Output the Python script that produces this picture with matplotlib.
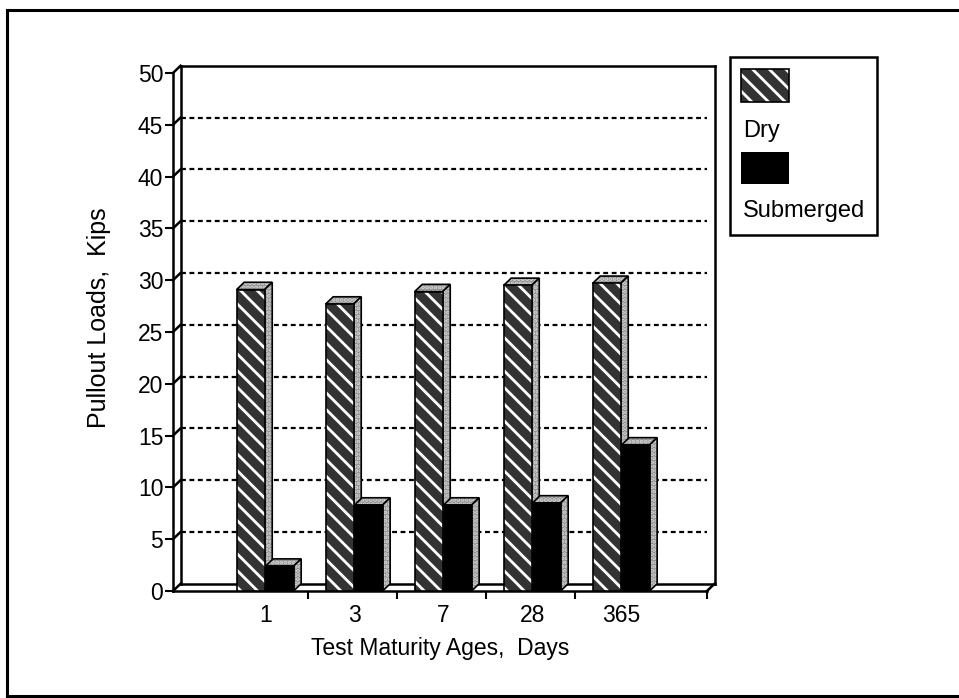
import matplotlib.pyplot as plt
from matplotlib.lines import Line2D
from matplotlib.patches import Polygon, Rectangle

plt.rcParams["font.family"] = ["Liberation Sans", "DejaVu Sans"]
plt.rcParams["hatch.linewidth"] = 2.0

ages = ["1", "3", "7", "28", "365"]
dry = [29.1, 27.7, 28.9, 29.5, 29.7]
submerged = [2.4, 8.3, 8.3, 8.5, 14.1]
y_ticks = [0, 5, 10, 15, 20, 25, 30, 35, 40, 45, 50]

W, H = 959, 698
fig = plt.figure(figsize=(W / 100, H / 100), dpi=100)
ax = fig.add_axes([173 / W, 1 - 591 / H, (707 - 173) / W, (591 - 73) / H])
x0, x1 = -1.04, 4.96
ax.set_xlim(x0, x1)
ax.set_ylim(0, 50)
ax.patch.set_visible(False)
dx, dy = 0.085, 0.7  # depth offset of the 3d look, in data units
bw = 0.315

# back wall, left wall and floor
wall = dict(color="black", lw=1.8, clip_on=False, zorder=1)
ax.plot([x0 + dx, x1 + dx], [50 + dy, 50 + dy], **wall)
ax.plot([x0 + dx, x0 + dx], [dy, 50 + dy], **wall)
ax.plot([x1 + dx, x1 + dx], [dy, 50 + dy], **wall)
ax.plot([x0 + dx, x1 + dx], [dy, dy], **wall)
ax.plot([x1, x1 + dx], [0, dy], **wall)
for v in y_ticks:
    ax.plot([x0, x0 + dx], [v, v + dy], **wall)
    if 0 < v < 50:
        ax.plot([x0 + dx, x1 + dx], [v + dy, v + dy], color="black", lw=1.6,
                linestyle=(0, (2.2, 1.6)), zorder=1)

face_kw = dict(facecolor="#8c8c8c", edgecolor="#d8d8d8", hatch="....", lw=0, zorder=3)
dry_kw = dict(facecolor="#333333", edgecolor="white", hatch="\\\\", lw=0)


def bar3d(left, h, hatched):
    top = [(left, h), (left + bw, h), (left + bw + dx, h + dy), (left + dx, h + dy)]
    side = [(left + bw, 0), (left + bw + dx, dy), (left + bw + dx, h + dy), (left + bw, h)]
    for pts in (top, side):
        ax.add_patch(Polygon(pts, closed=True, **face_kw))
        ax.add_patch(Polygon(pts, closed=True, fill=False, edgecolor="black", lw=1.2, zorder=3))
    if hatched:
        ax.add_patch(Rectangle((left, 0), bw, h, zorder=3, **dry_kw))
    else:
        ax.add_patch(Rectangle((left, 0), bw, h, facecolor="black", lw=0, zorder=3))
    ax.add_patch(Rectangle((left, 0), bw, h, fill=False, edgecolor="black", lw=1.2, zorder=3))


for i in range(len(ages)):
    bar3d(i - bw - 0.01, dry[i], True)
    bar3d(i, submerged[i], False)

for s in ["top", "right"]:
    ax.spines[s].set_visible(False)
ax.spines["left"].set_linewidth(1.8)
ax.spines["bottom"].set_linewidth(1.8)

ax.set_yticks(y_ticks)
ax.tick_params(axis="y", direction="out", length=6, width=1.5, pad=1, labelsize=16.5)
ax.set_xticks([i + 0.48 for i in range(len(ages) - 1)] + [x1])
ax.set_xticklabels([])
ax.set_xticks(range(len(ages)), ages, minor=True)
ax.tick_params(axis="x", which="major", direction="out", length=6, width=1.5)
ax.tick_params(axis="x", which="minor", length=0, pad=9, labelsize=16.5)

fig.text(99 / W, 1 - 318 / H, "Pullout Loads,  Kips", rotation=90, ha="center",
         va="center", fontsize=18)
fig.text(440 / W, 1 - 648 / H, "Test Maturity Ages,  Days", ha="center", va="center",
         fontsize=16.5)


# legend drawn by hand to match the boxed layout
def px(x, y):
    return x / W, 1 - y / H


fig.add_artist(Rectangle(px(730, 235), 147 / W, 178 / H, transform=fig.transFigure,
                         fill=False, edgecolor="black", lw=1.8))
fig.add_artist(Rectangle(px(741, 102), 48 / W, 33 / H, transform=fig.transFigure, **dry_kw))
fig.add_artist(Rectangle(px(741, 102), 48 / W, 33 / H, transform=fig.transFigure,
                         fill=False, edgecolor="black", lw=1.2))
fig.add_artist(Rectangle(px(741, 184), 48 / W, 32 / H, transform=fig.transFigure,
                         facecolor="black", lw=0))
fig.text(*px(743, 137), "Dry", fontsize=17, va="baseline")
fig.text(*px(743, 217), "Submerged", fontsize=17, va="baseline")

# outer frame
fig.add_artist(Line2D([7 / W, 7 / W], [0, 1 - 10 / H], transform=fig.transFigure,
                      color="black", lw=2.2))
fig.add_artist(Line2D([7 / W, 1], [1 - 10 / H, 1 - 10 / H], transform=fig.transFigure,
                      color="black", lw=2.2))
fig.add_artist(Line2D([7 / W, 1], [1 - 696 / H, 1 - 696 / H], transform=fig.transFigure,
                      color="black", lw=2.2))

fig.savefig("out.png", dpi=100)
